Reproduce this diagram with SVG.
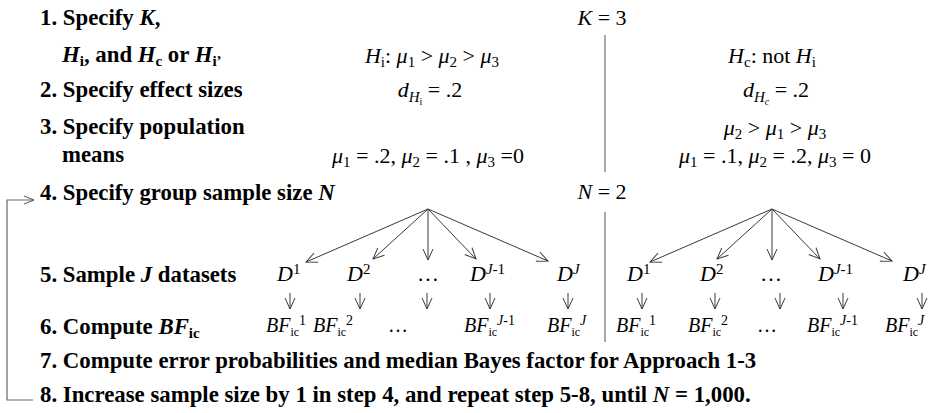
<svg xmlns="http://www.w3.org/2000/svg" width="945" height="413" viewBox="0 0 945 413">
<defs>
<style>
.b{font-family:"Liberation Serif","Times New Roman",serif;font-weight:bold;font-size:22.8px;fill:#000}
.m{font-family:"Liberation Serif","Times New Roman",serif;font-size:22px;fill:#000}
.f{font-family:"Liberation Serif","Times New Roman",serif;font-size:20px;fill:#000}
.i{font-style:italic}
.s{font-size:15px}
.t{font-size:12px}
.u{font-size:14px}
.ln{stroke:#3a3a3a;stroke-width:1;fill:none}
.lp{stroke:#666;stroke-width:1.2;fill:none}
.dv{stroke:#7a7a7a;stroke-width:1.3;fill:none}
</style>
<marker id="ah" markerWidth="14" markerHeight="12" refX="12" refY="6" orient="auto" markerUnits="userSpaceOnUse">
<path d="M1,1 L12,6 L1,11" fill="none" stroke="#3a3a3a" stroke-width="1"/>
</marker>
<marker id="ahg" markerWidth="14" markerHeight="12" refX="12" refY="6" orient="auto" markerUnits="userSpaceOnUse">
<path d="M2,2 L12,6 L2,10" fill="none" stroke="#555" stroke-width="1"/>
</marker>
</defs>

<g id="connectors">
<line class="dv" x1="605" y1="35" x2="605" y2="172"/>
<line class="dv" x1="605" y1="212" x2="605" y2="342"/>
<polyline class="lp" points="33,400 7,400 7,200 34,200" marker-end="url(#ahg)"/>
<g id="tree-left">
<line class="ln" x1="428" y1="209" x2="306" y2="262" marker-end="url(#ah)"/>
<line class="ln" x1="428" y1="209" x2="373" y2="259" marker-end="url(#ah)"/>
<line class="ln" x1="428" y1="209" x2="428" y2="260" marker-end="url(#ah)"/>
<line class="ln" x1="428" y1="209" x2="476" y2="259" marker-end="url(#ah)"/>
<line class="ln" x1="428" y1="209" x2="548" y2="261" marker-end="url(#ah)"/>
<line class="ln" x1="290" y1="293" x2="290" y2="309" marker-end="url(#ah)"/>
<line class="ln" x1="360" y1="293" x2="360" y2="309" marker-end="url(#ah)"/>
<line class="ln" x1="427" y1="293" x2="427" y2="309" marker-end="url(#ah)"/>
<line class="ln" x1="490" y1="293" x2="490" y2="309" marker-end="url(#ah)"/>
<line class="ln" x1="568" y1="293" x2="568" y2="309" marker-end="url(#ah)"/>
</g>
<g id="tree-right">
<line class="ln" x1="772" y1="209" x2="650" y2="262" marker-end="url(#ah)"/>
<line class="ln" x1="772" y1="209" x2="717" y2="259" marker-end="url(#ah)"/>
<line class="ln" x1="772" y1="209" x2="772" y2="260" marker-end="url(#ah)"/>
<line class="ln" x1="772" y1="209" x2="820" y2="259" marker-end="url(#ah)"/>
<line class="ln" x1="772" y1="209" x2="892" y2="261" marker-end="url(#ah)"/>
<line class="ln" x1="642" y1="293" x2="642" y2="309" marker-end="url(#ah)"/>
<line class="ln" x1="715" y1="293" x2="715" y2="309" marker-end="url(#ah)"/>
<line class="ln" x1="780" y1="293" x2="780" y2="309" marker-end="url(#ah)"/>
<line class="ln" x1="843" y1="293" x2="843" y2="309" marker-end="url(#ah)"/>
<line class="ln" x1="922" y1="293" x2="922" y2="309" marker-end="url(#ah)"/>
</g>
</g>

<g id="step1"><text class="b" x="40" y="25">1. Specify <tspan class="i">K</tspan>,</text></g>
<g id="step1b"><text class="b" x="62" y="62"><tspan class="i">H</tspan><tspan class="s" dy="4">i</tspan><tspan dy="-4">, and </tspan><tspan class="i">H</tspan><tspan class="s" dy="4">c</tspan><tspan dy="-4"> or </tspan><tspan class="i">H</tspan><tspan class="s" dy="4">i’</tspan></text></g>
<g id="step2"><text class="b" x="40" y="97">2. Specify effect sizes</text></g>
<g id="step3"><text class="b" x="40" y="134">3. Specify population</text><text class="b" x="62" y="162">means</text></g>
<g id="step4"><text class="b" x="40" y="200">4. Specify group sample size <tspan class="i">N</tspan></text></g>
<g id="step5"><text class="b" x="40" y="282">5. Sample <tspan class="i">J</tspan> datasets</text></g>
<g id="step6"><text class="b" x="40" y="334">6. Compute <tspan class="i">BF</tspan><tspan class="s" dy="4">ic</tspan></text></g>
<g id="step7"><text class="b" x="40" y="368">7. Compute error probabilities and median Bayes factor for Approach 1-3</text></g>
<g id="step8"><text class="b" x="40" y="402">8. Increase sample size by 1 in step 4, and repeat step 5-8, until <tspan class="i">N</tspan> = 1,000.</text></g>

<g id="K"><text class="m" x="602" y="25" text-anchor="middle"><tspan class="i">K</tspan> = 3</text></g>
<g id="Hi"><text class="m" x="432" y="63" text-anchor="middle"><tspan class="i">H</tspan><tspan class="s" dy="4">i</tspan><tspan dy="-4">: </tspan><tspan class="i">μ</tspan><tspan class="s" dy="4">1</tspan><tspan dy="-4"> &gt; </tspan><tspan class="i">μ</tspan><tspan class="s" dy="4">2</tspan><tspan dy="-4"> &gt; </tspan><tspan class="i">μ</tspan><tspan class="s" dy="4">3</tspan></text></g>
<g id="Hc"><text class="m" x="772" y="63" text-anchor="middle"><tspan class="i">H</tspan><tspan class="s" dy="4">c</tspan><tspan dy="-4">: not </tspan><tspan class="i">H</tspan><tspan class="s" dy="4">i</tspan></text></g>
<g id="dHi"><text class="m" x="430" y="97" text-anchor="middle"><tspan class="i">d</tspan><tspan class="s i" dy="5">H</tspan><tspan style="font-size:10px" dy="3">i</tspan><tspan dy="-8"> = .2</tspan></text></g>
<g id="dHc"><text class="m" x="776" y="97" text-anchor="middle"><tspan class="i">d</tspan><tspan class="s i" dy="5">H</tspan><tspan class="i" style="font-size:10px" dy="3">c</tspan><tspan dy="-8"> = .2</tspan></text></g>
<g id="muL"><text class="m" x="428" y="163" text-anchor="middle"><tspan class="i">μ</tspan><tspan class="s" dy="4">1</tspan><tspan dy="-4"> = .2, </tspan><tspan class="i">μ</tspan><tspan class="s" dy="4">2</tspan><tspan dy="-4"> = .1 , </tspan><tspan class="i">μ</tspan><tspan class="s" dy="4">3</tspan><tspan dy="-4"> =0</tspan></text></g>
<g id="ordR"><text class="m" x="775" y="135" text-anchor="middle"><tspan class="i">μ</tspan><tspan class="s" dy="4">2</tspan><tspan dy="-4"> &gt; </tspan><tspan class="i">μ</tspan><tspan class="s" dy="4">1</tspan><tspan dy="-4"> &gt; </tspan><tspan class="i">μ</tspan><tspan class="s" dy="4">3</tspan></text></g>
<g id="muR"><text class="m" x="775" y="163" text-anchor="middle"><tspan class="i">μ</tspan><tspan class="s" dy="4">1</tspan><tspan dy="-4"> = .1, </tspan><tspan class="i">μ</tspan><tspan class="s" dy="4">2</tspan><tspan dy="-4"> = .2, </tspan><tspan class="i">μ</tspan><tspan class="s" dy="4">3</tspan><tspan dy="-4"> = 0</tspan></text></g>
<g id="N"><text class="m" x="602" y="199" text-anchor="middle"><tspan class="i">N</tspan> = 2</text></g>

<g id="DL">
<text class="m" x="277" y="281"><tspan class="i">D</tspan><tspan class="s" dy="-7">1</tspan></text>
<text class="m" x="347" y="281"><tspan class="i">D</tspan><tspan class="s" dy="-7">2</tspan></text>
<text class="m" x="417" y="281">…</text>
<text class="m" x="470" y="281"><tspan class="i">D</tspan><tspan class="s i" dy="-7">J</tspan><tspan class="s">-1</tspan></text>
<text class="m" x="557" y="281"><tspan class="i">D</tspan><tspan class="s i" dy="-7">J</tspan></text>
</g>
<g id="DR">
<text class="m" x="627" y="281"><tspan class="i">D</tspan><tspan class="s" dy="-7">1</tspan></text>
<text class="m" x="700" y="281"><tspan class="i">D</tspan><tspan class="s" dy="-7">2</tspan></text>
<text class="m" x="760" y="281">…</text>
<text class="m" x="818" y="281"><tspan class="i">D</tspan><tspan class="s i" dy="-7">J</tspan><tspan class="s">-1</tspan></text>
<text class="m" x="903" y="281"><tspan class="i">D</tspan><tspan class="s i" dy="-7">J</tspan></text>
</g>
<g id="BFL">
<text class="f" x="266" y="332"><tspan class="i">BF</tspan><tspan class="t" dy="4">ic</tspan><tspan class="u" dy="-11">1</tspan></text>
<text class="f" x="313" y="332"><tspan class="i">BF</tspan><tspan class="t" dy="4">ic</tspan><tspan class="u" dy="-11">2</tspan></text>
<text class="f" x="388" y="332">…</text>
<text class="f" x="464" y="332"><tspan class="i">BF</tspan><tspan class="t" dy="4">ic</tspan><tspan class="u i" dy="-11">J</tspan><tspan class="u">-1</tspan></text>
<text class="f" x="547" y="332"><tspan class="i">BF</tspan><tspan class="t" dy="4">ic</tspan><tspan class="u i" dy="-11">J</tspan></text>
</g>
<g id="BFR">
<text class="f" x="616" y="332"><tspan class="i">BF</tspan><tspan class="t" dy="4">ic</tspan><tspan class="u" dy="-11">1</tspan></text>
<text class="f" x="688" y="332"><tspan class="i">BF</tspan><tspan class="t" dy="4">ic</tspan><tspan class="u" dy="-11">2</tspan></text>
<text class="f" x="757" y="332">…</text>
<text class="f" x="807" y="332"><tspan class="i">BF</tspan><tspan class="t" dy="4">ic</tspan><tspan class="u i" dy="-11">J</tspan><tspan class="u">-1</tspan></text>
<text class="f" x="885" y="332"><tspan class="i">BF</tspan><tspan class="t" dy="4">ic</tspan><tspan class="u i" dy="-11">J</tspan></text>
</g>
</svg>
